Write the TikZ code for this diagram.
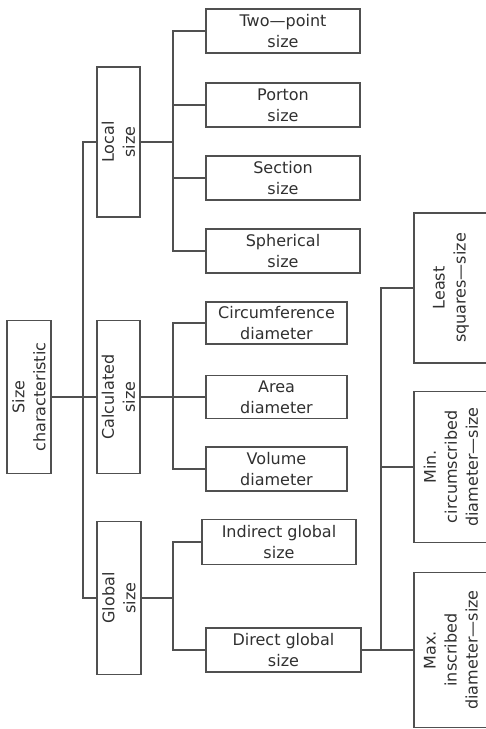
\documentclass[tikz,border=0pt]{standalone}
\usepackage{fontspec}
\setmainfont{DejaVu Sans}
\definecolor{linegray}{HTML}{505050}
\definecolor{textgray}{HTML}{303030}
\begin{document}
\begin{tikzpicture}[x=1pt,y=-1pt,
  box/.style={draw=linegray, line width=1.3pt, align=center, inner sep=0pt,
    text=textgray, font=\fontsize{16}{21}\selectfont},
  vbox/.style={box, rotate=90},
  conn/.style={draw=linegray, line width=1.3pt}]
\useasboundingbox (0,0) rectangle (486,729);
\clip (0,0) rectangle (486,729);
% level 0 and 1
\node[vbox, minimum width=153, minimum height=44] (sc) at (29,397) {Size\\characteristic};
\node[vbox, minimum width=150, minimum height=43] (local) at (118.5,142) {Local\\size};
\node[vbox, minimum width=153, minimum height=43] (calc) at (118.5,397) {Calculated\\size};
\node[vbox, minimum width=153, minimum height=44] (global) at (119,598) {Global\\size};
% local children
\node[box, minimum width=154, minimum height=44] (twopoint) at (283,31) {Two—point\\size};
\node[box, minimum width=154, minimum height=44] (porton) at (283,105) {Porton\\size};
\node[box, minimum width=154, minimum height=44] (section) at (283,178) {Section\\size};
\node[box, minimum width=154, minimum height=44] (spherical) at (283,251) {Spherical\\size};
% calculated children
\node[box, minimum width=141, minimum height=42] (circ) at (276.5,323) {Circumference\\diameter};
\node[box, minimum width=141, minimum height=43] (area) at (276.5,397) {Area\\diameter};
\node[box, minimum width=141, minimum height=44] (volume) at (276.5,469) {Volume\\diameter};
% global children
\node[box, minimum width=154, minimum height=45] (indirect) at (279,542) {Indirect global\\size};
\node[box, minimum width=155, minimum height=44] (direct) at (283.5,650) {Direct global\\size};
% direct children
\node[vbox, minimum width=150, minimum height=74] (least) at (451,288) {Least\\squares—size};
\node[vbox, minimum width=151, minimum height=74] (min) at (451,467) {Min.\\circumscribed\\diameter—size};
\node[vbox, minimum width=155, minimum height=74] (max) at (451,650) {Max.\\inscribed\\diameter—size};
% junction points
\coordinate (t) at (83,397);
\coordinate (b1) at (173,142);
\coordinate (b2) at (173,397);
\coordinate (b3) at (173,598);
\coordinate (r) at (381,467);
% connectors
\path[conn] (sc) -- (calc);
\path[conn] (local) -| (t) |- (global);
\path[conn] (local) -- (b1);
\path[conn] (twopoint) -| (b1) |- (spherical);
\path[conn] (porton) -- (porton -| b1);
\path[conn] (section) -- (section -| b1);
\path[conn] (calc) -- (b2);
\path[conn] (circ) -| (b2) |- (volume);
\path[conn] (area) -- (b2);
\path[conn] (global) -- (b3);
\path[conn] (indirect) -| (b3) |- (direct);
\path[conn] (least) -| (r) |- (max);
\path[conn] (min) -- (r);
\path[conn] (direct) -- (direct -| r);
\end{tikzpicture}
\end{document}
